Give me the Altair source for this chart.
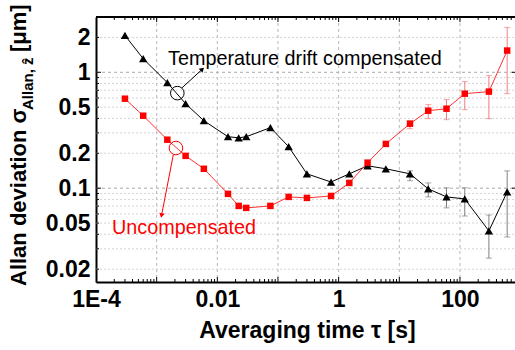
import altair as alt
import pandas as pd

# ---------------- data ----------------
tau = [3e-4, 6e-4, 1.5e-3, 3e-3, 6e-3, 0.015, 0.0225, 0.03, 0.075, 0.15, 0.3,
       0.75, 1.5, 3, 6, 15, 30, 60, 120, 300, 600]
compensated = [2.08, 1.31, 0.814, 0.536, 0.382, 0.278, 0.272, 0.278, 0.333, 0.228, 0.133,
               0.113, 0.133, 0.156, 0.147, 0.133, 0.0986, 0.0841, 0.0807, 0.0428, 0.0929]
uncompensated = [0.592, 0.422, 0.262, 0.190, 0.147, 0.0893, 0.0703, 0.0676, 0.0703, 0.0841, 0.0824,
                 0.0857, 0.111, 0.166, 0.241, 0.360, 0.466, 0.485, 0.654, 0.681, 1.54]

err_tau = [15, 30, 60, 120, 300, 600]
comp_lo = [0.116, 0.0841, 0.0676, 0.0575, 0.0249, 0.0379]
comp_hi = [0.141, 0.111, 0.1007, 0.1007, 0.0587, 0.141]
unc_lo = [0.326, 0.398, 0.390, 0.476, 0.398, 0.654]
unc_hi = [0.382, 0.526, 0.581, 0.831, 0.936, 2.44]

x_labels = [1e-4, 1e-2, 1, 100]
y_labels = [0.02, 0.05, 0.1, 0.2, 0.5, 1, 2]
x_major = [1e-3, 1e-2, 1e-1, 1, 10, 100]
x_minor = [k * 10.0 ** e for e in range(-4, 3) for k in range(2, 10) if k * 10.0 ** e < 800]
y_major = [0.1, 1]
y_minor = [k * 10.0 ** e for e in range(-2, 1) for k in range(2, 10) if k * 10.0 ** e < 3.01]
y_minor = [v for v in y_minor if v > 0.0155]

# annotations
ann_text = ["Temperature drift compensated", "Uncompensated"]
ann_text_tau = [1.54e-3, 1.84e-4]
ann_text_sig = [1.16, 0.0404]
circ_tau = [2.19e-3, 2.08e-3]
circ_sig = [0.661, 0.222]
arrow_tau0 = [2.62e-3, 1.88e-3]
arrow_sig0 = [0.735, 0.194]
arrow_tau1 = [5.53e-3, 1.21e-3]
arrow_sig1 = [1.051, 0.0590]
arrow_angle = [47, 191]

# ---------------- layout ----------------
W, H = 419, 265
FONT = "Liberation Sans"
RED = "#ff0000"

xscale = alt.Scale(type="log", domain=[1e-4, 808], nice=False)
yscale = alt.Scale(type="log", domain=[0.0155, 3.0], nice=False)

xaxis = alt.Axis(values=x_labels, title=None, ticks=False, grid=False,
                 domain=True, domainColor="black", domainWidth=2,
                 labelFont=FONT, labelFontSize=23, labelFontWeight="bold",
                 labelColor="black", labelPadding=6, labelFlush=False,
                 labelOverlap=False,
                 labelExpr="datum.value < 0.001 ? '1E-4' : format(datum.value, '~g')")
yaxis = alt.Axis(values=y_labels, title=None, ticks=False, grid=False,
                 domain=True, domainColor="black", domainWidth=2,
                 labelFont=FONT, labelFontSize=23, labelFontWeight="bold",
                 labelColor="black", labelPadding=6, labelOverlap=False,
                 labelExpr="format(datum.value, '~g')")

df = pd.DataFrame({"tau": tau, "comp": compensated, "unc": uncompensated})
err = pd.DataFrame({"tau": err_tau, "clo": comp_lo, "chi": comp_hi, "ulo": unc_lo, "uhi": unc_hi})
one = pd.DataFrame({"a": [0]})


def X(field):
    return alt.X(field, type="quantitative", scale=xscale, axis=xaxis)


def Y(field):
    return alt.Y(field, type="quantitative", scale=yscale, axis=yaxis)


# grid
ygrid_minor = alt.Chart(pd.DataFrame({"v": y_minor})).mark_rule(
    color="#d4d4d4", strokeWidth=1, strokeDash=[2, 2]
).encode(y=Y("v"), x=alt.value(0), x2=alt.value(W))
ygrid_major = alt.Chart(pd.DataFrame({"v": y_major})).mark_rule(
    color="#a8a8a8", strokeWidth=1, strokeDash=[3, 3]
).encode(y=Y("v"), x=alt.value(0), x2=alt.value(W))
xgrid = alt.Chart(pd.DataFrame({"v": x_major})).mark_rule(
    color="#b8b8b8", strokeWidth=1, strokeDash=[3, 3]
).encode(x=X("v"), y=alt.value(0), y2=alt.value(H))

# error bars
ebase = alt.Chart(err)
c_err = ebase.mark_rule(color="#808080", strokeWidth=1).encode(x=X("tau"), y=Y("clo"), y2=alt.Y2("chi"))
c_cap1 = ebase.mark_tick(color="#808080", thickness=1, size=6, orient="horizontal").encode(x=X("tau"), y=Y("clo"))
c_cap2 = ebase.mark_tick(color="#808080", thickness=1, size=6, orient="horizontal").encode(x=X("tau"), y=Y("chi"))
u_err = ebase.mark_rule(color="#f08080", strokeWidth=1).encode(x=X("tau"), y=Y("ulo"), y2=alt.Y2("uhi"))
u_cap1 = ebase.mark_tick(color="#f08080", thickness=1, size=6, orient="horizontal").encode(x=X("tau"), y=Y("ulo"))
u_cap2 = ebase.mark_tick(color="#f08080", thickness=1, size=6, orient="horizontal").encode(x=X("tau"), y=Y("uhi"))

# series
base = alt.Chart(df)
c_line = base.mark_line(color="#000000", strokeWidth=1).encode(x=X("tau"), y=Y("comp"))
u_line = base.mark_line(color="#ff3030", strokeWidth=1).encode(x=X("tau"), y=Y("unc"))
c_pts = base.mark_point(shape="triangle-up", filled=True, size=70, color="black", opacity=1).encode(x=X("tau"), y=Y("comp"))
u_pts = base.mark_point(shape="square", filled=True, size=42, color=RED, opacity=1).encode(x=X("tau"), y=Y("unc"))

# annotations
ann = pd.DataFrame({"text": ann_text, "t": ann_text_tau, "s": ann_text_sig,
                    "ct": circ_tau, "cs": circ_sig,
                    "t0": arrow_tau0, "s0": arrow_sig0, "t1": arrow_tau1, "s1": arrow_sig1,
                    "ang": arrow_angle, "col": ["black", RED]})
abase = alt.Chart(ann)
a_text = abase.mark_text(font=FONT, fontSize=19.8, align="left", baseline="alphabetic").encode(
    x=X("t"), y=Y("s"), text="text:N", color=alt.Color("col:N", scale=None))
a_circ = abase.mark_point(shape="circle", filled=False, size=185, strokeWidth=1, opacity=1).encode(
    x=X("ct"), y=Y("cs"), color=alt.Color("col:N", scale=None))
a_line = abase.mark_rule(strokeWidth=1).encode(
    x=X("t0"), y=Y("s0"), x2=alt.X2("t1"), y2=alt.Y2("s1"), color=alt.Color("col:N", scale=None))
a_head = abase.mark_point(shape="triangle", filled=True, size=30, opacity=1).encode(
    x=X("t1"), y=Y("s1"), angle=alt.Angle("ang:Q", scale=None), color=alt.Color("col:N", scale=None))


# inward ticks
def xticks(vals, length):
    d = alt.Chart(pd.DataFrame({"v": vals}))
    bot = d.mark_rule(color="black", strokeWidth=1).encode(x=X("v"), y=alt.value(H), y2=alt.value(H - length))
    top = d.mark_rule(color="black", strokeWidth=1).encode(x=X("v"), y=alt.value(0), y2=alt.value(length))
    return [bot, top]


def yticks(vals, length, right=True):
    d = alt.Chart(pd.DataFrame({"v": vals}))
    out = [d.mark_rule(color="black", strokeWidth=1).encode(y=Y("v"), x=alt.value(0), x2=alt.value(length))]
    if right:
        out.append(d.mark_rule(color="black", strokeWidth=1).encode(y=Y("v"), x=alt.value(W - 3), x2=alt.value(W)))
    return out


ticks = xticks(x_major, 5) + xticks(x_minor, 3) + yticks(y_major, 5) + yticks(y_minor, 3, right=False)

top_frame = alt.Chart(one).mark_rule(color="black", strokeWidth=2).encode(
    x=alt.value(0), x2=alt.value(W), y=alt.value(0))

# axis titles
xtitle = alt.Chart(one).mark_text(text="Averaging time τ [s]", font=FONT, fontSize=23, fontWeight="bold",
                                  align="center", baseline="alphabetic").encode(
    x=alt.value(W / 2 + 2), y=alt.value(321))
ytitle1 = alt.Chart(one).mark_text(text="Allan deviation σ", font=FONT, fontSize=22, fontWeight="bold",
                                   align="left", baseline="alphabetic", angle=270).encode(
    x=alt.value(-70), y=alt.value(269))
ytitle2 = alt.Chart(one).mark_text(text="Allan, ẑ", font=FONT, fontSize=15, fontWeight="bold",
                                   align="left", baseline="alphabetic", angle=270).encode(
    x=alt.value(-63), y=alt.value(93))
ytitle3 = alt.Chart(one).mark_text(text="[μm]", font=FONT, fontSize=22, fontWeight="bold",
                                   align="left", baseline="alphabetic", angle=270).encode(
    x=alt.value(-70), y=alt.value(35))

chart = alt.layer(
    ygrid_minor, ygrid_major, xgrid,
    c_line,
    c_err, c_cap1, c_cap2, u_err, u_cap1, u_cap2,
    u_line, c_pts, u_pts,
    a_line, a_circ, a_head, a_text,
    *ticks, top_frame,
    xtitle, ytitle1, ytitle2, ytitle3,
).properties(
    width=W, height=H,
    autosize=alt.AutoSizeParams(type="none"),
    padding={"left": 96, "top": 17, "right": 0, "bottom": 68},
).configure_view(stroke=None).configure(background="white")

chart.save("out.html", embed_options={"renderer": "svg", "actions": False})
